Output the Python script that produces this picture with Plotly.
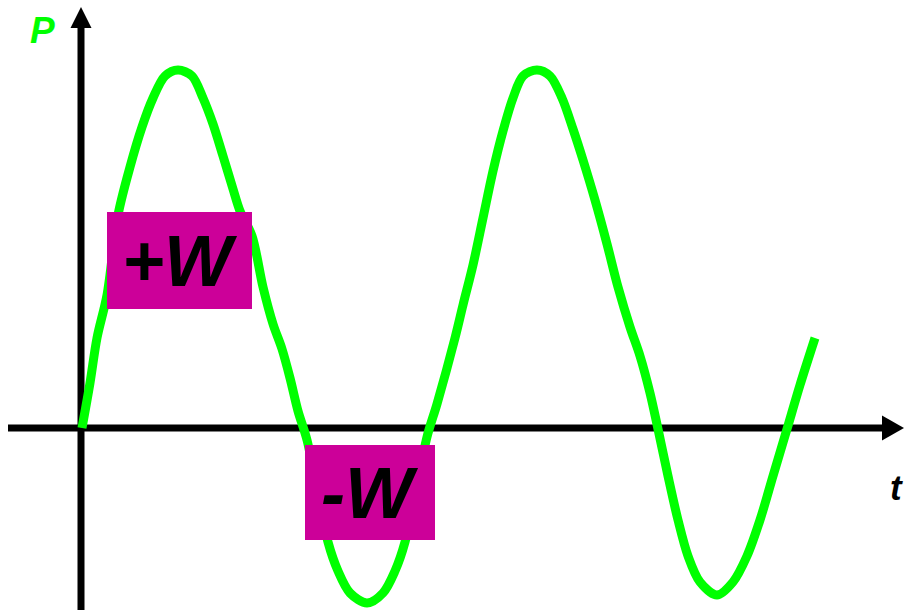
import plotly.graph_objects as go

# Curve (t, P in the picture's own units, origin at axes crossing)
T = [1, 9, 16, 26, 37, 49, 61, 72, 84, 97, 111, 122, 132, 142, 152, 159, 171, 182, 192, 201, 209,
     217, 226, 247, 257, 269, 286, 302, 314, 324, 346, 356, 374, 382, 392, 402, 412, 422, 432, 442,
     456, 469, 481, 492, 502, 514, 526, 537, 549, 559, 569, 577, 587, 597, 607, 619, 636, 652, 666,
     679, 692, 706, 719, 734]
P = [0, 45, 90, 133, 213, 261, 301, 330, 352, 358, 352, 330, 304, 272, 239, 217, 192, 141, 104, 79, 50,
     17, -12, -114, -143, -165, -175, -165, -143, -114, -9, 24, 90, 123, 163, 210, 257, 297, 330, 352,
     358, 352, 330, 299, 268, 228, 184, 141, 101, 72, 35, -1, -48, -92, -128, -154, -167, -154, -128,
     -92, -48, -1, 43, 90]

box_labels = ["+W", "-W"]
box_t = [(26, 171), (224, 354)]
box_p = [(119, 216), (-112, -17)]

GREEN = "#00FF00"
MAGENTA = "#CC0099"
FONT = "Liberation Sans, Arial, sans-serif"

fig = go.Figure()
fig.add_trace(go.Scatter(x=T, y=P, mode="lines",
                         line=dict(color=GREEN, width=9, shape="spline", smoothing=0.9),
                         hoverinfo="skip", showlegend=False))

shapes = []
# axes
shapes.append(dict(type="line", x0=-73, x1=803, y0=0, y1=0, line=dict(color="black", width=7), layer="below"))
shapes.append(dict(type="path", path="M 801,12.5 L 823,0 L 801,-12.5 Z", fillcolor="black",
                   line=dict(width=0), layer="below"))
shapes.append(dict(type="line", x0=0, x1=0, y0=-182, y1=401, line=dict(color="black", width=7), layer="below"))
shapes.append(dict(type="path", path="M -10.5,400 L 0,421 L 10.5,400 Z", fillcolor="black",
                   line=dict(width=0), layer="below"))
annotations = []
for lab, (x0, x1), (y0, y1) in zip(box_labels, box_t, box_p):
    shapes.append(dict(type="rect", x0=x0, x1=x1, y0=y0, y1=y1, fillcolor=MAGENTA,
                       line=dict(width=0), layer="above"))
    annotations.append(dict(x=(x0 + x1) / 2, y=(y0 + y1) / 2, text=lab, showarrow=False,
                            xanchor="center", yanchor="middle",
                            font=dict(family=FONT, size=72, color="black", weight="bold", style="italic")))

annotations.append(dict(x=-39, y=398, text="P", showarrow=False, xanchor="center", yanchor="middle",
                        font=dict(family=FONT, size=37, color=GREEN, weight="bold", style="italic")))
annotations.append(dict(x=815, y=-59, text="t", showarrow=False, xanchor="center", yanchor="middle",
                        font=dict(family=FONT, size=35, color="black", weight="bold", style="italic")))

fig.update_layout(
    width=904, height=610,
    margin=dict(l=0, r=0, t=0, b=0),
    paper_bgcolor="white", plot_bgcolor="white",
    xaxis=dict(range=[-81, 823], visible=False, fixedrange=True),
    yaxis=dict(range=[-182, 428], visible=False, fixedrange=True),
    shapes=shapes, annotations=annotations,
    showlegend=False,
)
fig.write_html("out.html", config={"displayModeBar": False},
               post_script="document.body.style.margin='0';document.body.style.overflow='hidden';")
